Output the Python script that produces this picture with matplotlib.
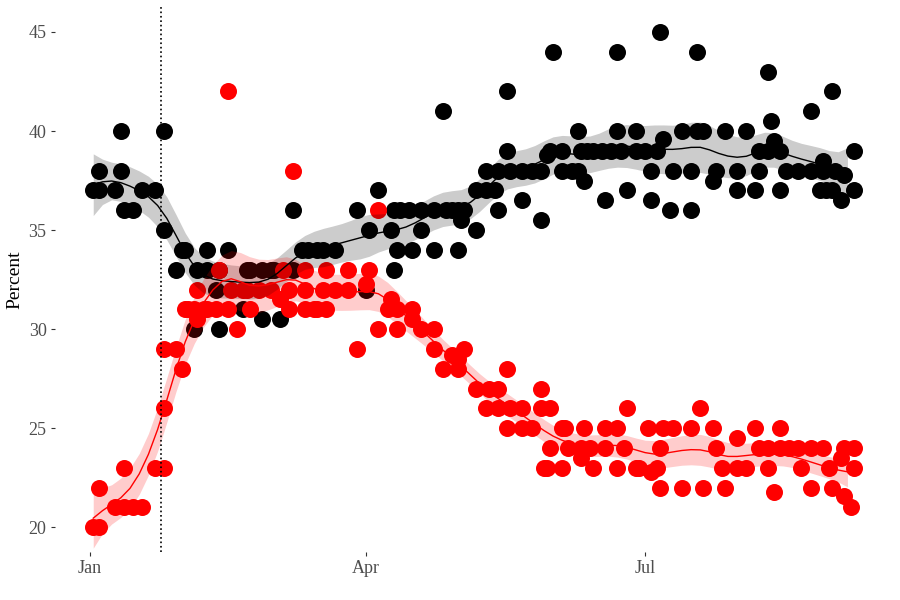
import numpy as np
import pandas as pd
import matplotlib
matplotlib.use('Agg')
import matplotlib.pyplot as plt
import matplotlib.dates as mdates

plt.rcParams['font.family'] = ['Liberation Serif', 'DejaVu Serif']

start = pd.Timestamp('2017-01-01')
event_day = 23  # dotted vertical marker (days after Jan 1)

# poll results, days after Jan 1
black_day = [1, 3, 3, 8, 10, 10, 11, 14, 17, 21, 24, 24, 28, 30, 31, 34, 35, 38, 38, 41,
             42, 42, 45, 50, 51, 52, 56, 56, 59, 60, 62, 66, 66, 69, 71, 74, 76, 80, 87, 90,
             91, 94, 98, 99, 99, 100, 101, 104, 105, 108, 108, 112, 112, 115, 116, 118, 120, 120, 121, 122,
             126, 126, 129, 129, 132, 133, 133, 136, 136, 137, 141, 141, 144, 147, 147, 149, 150, 151, 154, 154,
             157, 159, 159, 160, 161, 162, 164, 167, 168, 170, 172, 172, 173, 175, 178, 178, 181, 183, 183, 185,
             186, 187, 189, 190, 193, 196, 196, 198, 198, 200, 203, 204, 207, 211, 211, 214, 217, 218, 218, 221,
             221, 222, 223, 225, 225, 227, 231, 235, 235, 238, 239, 239, 240, 242, 242, 243, 245, 246, 249, 249]
black_pct = [37, 37, 38, 37, 40, 38, 36, 36, 37, 37, 40, 35, 33, 34, 34, 30, 33, 33, 34, 32,
             30, 33, 34, 31, 33, 33, 33, 30.5, 33, 33, 30.5, 36, 33, 34, 34, 34, 34, 34, 36, 32,
             35, 37, 35, 36, 33, 34, 36, 36, 34, 35, 36, 36, 34, 41, 36, 36, 34, 36, 35.5, 36,
             35, 37, 37, 38, 37, 38, 36, 42, 39, 38, 38, 36.5, 38, 38, 35.5, 38.8, 39, 44, 39, 38,
             38, 40, 38, 39, 37.5, 39, 39, 39, 36.5, 39, 44, 40, 39, 37, 40, 39, 39, 38, 36.5, 39,
             45, 39.6, 36, 38, 40, 38, 36, 40, 44, 40, 37.5, 38, 40, 38, 37, 40, 37, 38, 39, 43,
             39, 40.5, 39.5, 39, 37, 38, 38, 41, 38, 37, 38.5, 38, 37, 42, 37, 38, 36.5, 37.8, 39, 37]

red_day = [1, 3, 3, 8, 11, 11, 14, 17, 21, 24, 24, 24, 28, 30, 31, 32, 34, 35, 35, 37,
           38, 41, 42, 45, 45, 46, 48, 50, 51, 52, 55, 59, 62, 63, 65, 65, 66, 70, 70, 70,
           73, 74, 76, 77, 77, 80, 84, 84, 87, 90, 91, 94, 94, 97, 98, 100, 100, 105, 105, 108,
           112, 112, 115, 118, 120, 120, 122, 126, 130, 133, 129, 133, 136, 137, 141, 147, 147, 136, 141, 144,
           148, 150, 150, 149, 154, 154, 155, 156, 160, 160, 161, 163, 164, 168, 168, 172, 172, 174, 175, 178,
           179, 182, 183, 185, 186, 186, 187, 190, 193, 196, 199, 200, 203, 204, 206, 207, 211, 211, 214, 217,
           218, 221, 221, 223, 225, 225, 228, 231, 232, 235, 235, 239, 241, 242, 245, 246, 246, 248, 249, 249]
red_pct = [20, 20, 22, 21, 21, 23, 21, 21, 23, 23, 26, 29, 29, 28, 31, 31, 31, 32, 30.5, 31,
           31, 31, 33, 31, 42, 32, 30, 32, 32, 31, 32, 32, 31.5, 33, 32, 31, 38, 33, 32, 31,
           31, 31, 32, 33, 31, 32, 33, 32, 29, 32.3, 33, 36, 30, 31, 31.5, 31, 30, 31, 30.5, 30,
           30, 29, 28, 28.7, 28, 28.5, 29, 27, 27, 27, 26, 26, 28, 26, 26, 26, 27, 25, 25, 25,
           23, 24, 26, 23, 23, 25, 25, 24, 24, 23.5, 25, 24, 23, 24, 25, 25, 23, 24, 26, 23,
           23, 25, 22.8, 23, 24, 22, 25, 25, 22, 25, 26, 22, 25, 24, 23, 22, 24.5, 23, 23, 25,
           24, 24, 23, 21.8, 25, 24, 24, 24, 23, 24, 22, 24, 23, 22, 23.5, 24, 21.6, 21, 24, 23]


def local_fit(days, vals, bw=6.0):
    # gaussian-weighted local linear fit, band from locally weighted residual spread
    x = np.asarray(days, float)
    y = np.asarray(vals, float)
    grid = np.arange(x.min(), x.max() + 0.5, 3.0)

    def hat_row(g):
        w = np.exp(-0.5 * ((x - g) / bw) ** 2)
        X = np.column_stack([np.ones_like(x), x - g])
        A = X.T @ (X * w[:, None])
        return np.linalg.solve(A, (X * w[:, None]).T)[0]

    res = y - np.array([hat_row(g) @ y for g in x])
    fit, ci = [], []
    for g in grid:
        r = hat_row(g)
        w2 = np.exp(-0.5 * ((x - g) / (2 * bw)) ** 2)
        sig = np.sqrt(np.sum(w2 * res ** 2) / np.sum(w2))
        fit.append(r @ y)
        ci.append(1.96 * sig * np.sqrt(np.sum(r ** 2)))
    return grid, np.array(fit), np.array(ci)


def to_dates(days):
    return start + pd.to_timedelta(np.asarray(days, float), unit='D')


fig = plt.figure(figsize=(9, 6), dpi=100)
ax = fig.add_axes([0.061, 0.08, 0.93, 0.908])

ax.scatter(to_dates(black_day), black_pct, s=150, color='black', linewidths=0, zorder=2)
ax.scatter(to_dates(red_day), red_pct, s=150, color='#FF0000', linewidths=0, zorder=2)

for d, v, col in [(black_day, black_pct, 'black'), (red_day, red_pct, '#FF0000')]:
    g, f, ci = local_fit(d, v)
    gd = to_dates(g)
    ax.fill_between(gd, f - ci, f + ci, color=col, alpha=0.2, linewidth=0, zorder=3)
    ax.plot(gd, f, color=col, lw=1, zorder=4)

ax.axvline(to_dates([event_day])[0], color='black', ls=':', lw=1.2, zorder=5)

ax.set_xlim(to_dates([-11.5])[0], to_dates([261.5])[0])
ax.set_ylim(18.75, 46.25)
ax.set_yticks([20, 25, 30, 35, 40, 45])
ax.set_xticks(to_dates([0, 90, 181]))
ax.xaxis.set_major_formatter(mdates.DateFormatter('%b'))
ax.set_ylabel('Percent', fontsize=14, color='black')
for s in ax.spines.values():
    s.set_visible(False)
ax.tick_params(length=3, color='#333333', labelcolor='#4D4D4D', labelsize=13, pad=3)

fig.savefig('out.png', dpi=100)
